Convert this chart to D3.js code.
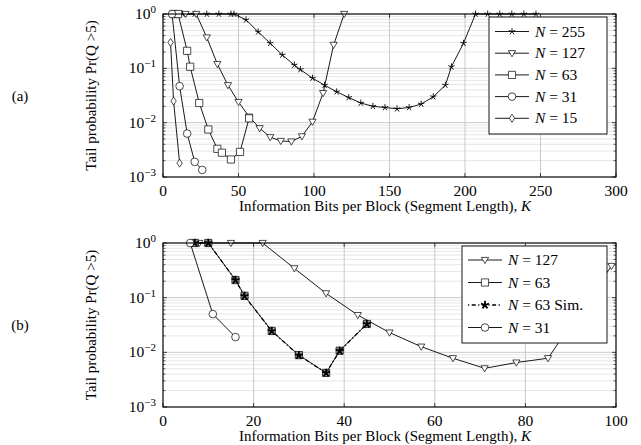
<!DOCTYPE html>
<html lang="en">
<head>
<meta charset="UTF-8">
<title>Tail probability vs K</title>
<script src="https://d3js.org/d3.v7.min.js"></script>
<style>
  body { margin: 0; background: #fff; }
  svg, svg text { font-family: "Liberation Serif", "Times New Roman", "DejaVu Serif", serif; }
</style>
</head>
<body>
<script>
// panel (a)
var kA255 = [9,13,21,29,37,45,47,55,63,71,79,87,91,99,107,115,123,131,139,147,155,163,171,179,187,191,199,207,215,223,231,239,247];
var pA255 = [1,1,1,1,1,1,1,0.78,0.47,0.29,0.176,0.115,0.095,0.066,0.049,0.037,0.029,0.023,0.020,0.019,0.018,0.019,0.022,0.030,0.049,0.107,0.29,1,1,1,1,1,1];
var kA127 = [8,15,22,29,36,43,50,57,64,71,78,85,92,99,106,113,120];
var pA127 = [1,1,1,0.37,0.12,0.049,0.024,0.0129,0.0079,0.0054,0.0046,0.0045,0.0056,0.0104,0.035,0.27,1];
var kA63 = [7,10,16,18,24,30,36,39,45,51,57];
var pA63 = [1,1,0.21,0.107,0.023,0.0075,0.0033,0.0028,0.0021,0.0029,0.012];
var kA31 = [6,11,16,21,26];
var pA31 = [1,0.047,0.0063,0.0019,0.00135];
var kA15 = [5,7,11];
var pA15 = [0.30,0.025,0.0018];

// panel (b)
var kB127 = [8,15,22,29,36,43,50,57,64,71,78,85,92,99];
var pB127 = [1,1,1,0.344,0.12,0.048,0.023,0.0127,0.0078,0.0051,0.0065,0.0078,0.056,0.38];
var kB63 = [7,10,16,18,24,30,36,39,45];
var pB63 = [1,1,0.21,0.108,0.0246,0.0089,0.0042,0.0107,0.033];
var pB63sim = [1,1,0.21,0.107,0.0245,0.0088,0.0042,0.0106,0.033];
var kB31 = [6,11,16];
var pB31 = [1,0.050,0.019];

var xTicksA = [0,50,100,150,200,250,300];
var xTicksB = [0,20,40,60,80,100];
var yTicks = [1e-3,1e-2,1e-1,1];
var yLabel = "Tail probability Pr(Q >5)";
var xLabel = "Information Bits per Block (Segment Length), ";

var FONT = '"Liberation Serif", "Times New Roman", "DejaVu Serif", serif';

var svg = d3.select("body").append("svg")
  .attr("width", 641).attr("height", 445)
  .attr("font-family", FONT);

// pgf style asterisk star: 5 spokes
function starPath(r) {
  var s = "";
  for (var i = 0; i < 5; i++) {
    var a = (-90 + 72 * i) * Math.PI / 180;
    s += "M0,0L" + (r * Math.cos(a)).toFixed(2) + "," + (r * Math.sin(a)).toFixed(2);
  }
  return s;
}

function markerPath(type) {
  if (type == "star") return starPath(3.4);
  if (type == "bigstar") return starPath(4.2);
  if (type == "tri") return "M-3.6,-2.6L3.6,-2.6L0,3.6Z";
  if (type == "square") return "M-3.6,-3.6L3.6,-3.6L3.6,3.6L-3.6,3.6Z";
  if (type == "circle") return d3.symbol(d3.symbolCircle).size(46)();
  if (type == "diamond") return "M0,-4L2.7,0L0,4L-2.7,0Z";
}

function markerWidth(type) {
  if (type == "star") return 0.9;
  if (type == "bigstar") return 1.8;
  return 0.7;
}

function drawPanel(p) {
  var x = d3.scaleLinear().domain(p.xDomain).range([163, 616]);
  var y = d3.scaleLog().domain([1e-3, 1]).range([p.bottom, p.top]);
  var g = svg.append("g");

  // grid
  var minors = [];
  [1e-3,1e-2,1e-1].forEach(function(d) {
    for (var m = 2; m <= 9; m++) minors.push(d * m);
  });
  g.selectAll(".minor").data(minors).enter().append("line")
    .attr("x1", 163).attr("x2", 616)
    .attr("y1", function(d) { return y(d); }).attr("y2", function(d) { return y(d); })
    .attr("stroke", "#e0e0e0").attr("stroke-width", 0.8);
  g.selectAll(".majy").data(yTicks).enter().append("line")
    .attr("x1", 163).attr("x2", 616)
    .attr("y1", function(d) { return y(d); }).attr("y2", function(d) { return y(d); })
    .attr("stroke", "#bdbdbd").attr("stroke-width", 0.8);
  g.selectAll(".majx").data(p.xTicks).enter().append("line")
    .attr("x1", function(d) { return x(d); }).attr("x2", function(d) { return x(d); })
    .attr("y1", p.top).attr("y2", p.bottom)
    .attr("stroke", "#bdbdbd").attr("stroke-width", 0.8);

  // tick marks inside the frame
  minors.forEach(function(d) {
    g.append("line").attr("x1", 163).attr("x2", 165.5).attr("y1", y(d)).attr("y2", y(d)).attr("stroke", "#000").attr("stroke-width", 0.6);
    g.append("line").attr("x1", 613.5).attr("x2", 616).attr("y1", y(d)).attr("y2", y(d)).attr("stroke", "#000").attr("stroke-width", 0.6);
  });
  yTicks.forEach(function(d) {
    g.append("line").attr("x1", 163).attr("x2", 167).attr("y1", y(d)).attr("y2", y(d)).attr("stroke", "#000").attr("stroke-width", 0.7);
    g.append("line").attr("x1", 612).attr("x2", 616).attr("y1", y(d)).attr("y2", y(d)).attr("stroke", "#000").attr("stroke-width", 0.7);
  });
  p.xTicks.forEach(function(d) {
    g.append("line").attr("x1", x(d)).attr("x2", x(d)).attr("y1", p.bottom).attr("y2", p.bottom - 4).attr("stroke", "#000").attr("stroke-width", 0.7);
    g.append("line").attr("x1", x(d)).attr("x2", x(d)).attr("y1", p.top).attr("y2", p.top + 4).attr("stroke", "#000").attr("stroke-width", 0.7);
  });

  // series
  var line = d3.line()
    .x(function(d) { return x(d[0]); })
    .y(function(d) { return y(d[1]); });
  p.series.forEach(function(s) {
    var pts = d3.zip(s.k, s.p);
    g.append("path").datum(pts)
      .attr("d", line)
      .attr("fill", "none").attr("stroke", "#000")
      .attr("stroke-width", s.width || 0.9)
      .attr("stroke-dasharray", s.dash || null);
    g.selectAll(null).data(pts).enter().append("path")
      .attr("d", markerPath(s.marker))
      .attr("transform", function(d) { return "translate(" + x(d[0]) + "," + y(d[1]) + ")"; })
      .attr("fill", s.fill).attr("stroke", "#000").attr("stroke-width", markerWidth(s.marker));
  });

  // frame
  g.append("rect").attr("x", 163).attr("y", p.top)
    .attr("width", 453).attr("height", p.bottom - p.top)
    .attr("fill", "none").attr("stroke", "#000").attr("stroke-width", 1.1);

  // tick labels
  p.xTicks.forEach(function(d) {
    g.append("text").attr("x", x(d)).attr("y", p.bottom + 19)
      .attr("text-anchor", "middle").attr("font-size", 15.5).text(d);
  });
  yTicks.forEach(function(d) {
    var e = Math.round(Math.log10(d));
    var t = g.append("text").attr("x", 156).attr("y", y(d) + 5)
      .attr("text-anchor", "end").attr("font-size", 15.5);
    t.append("tspan").text("10");
    t.append("tspan").attr("dy", -6).attr("font-size", 11)
      .text(e == 0 ? "0" : "\u2212" + (-e));
  });

  // axis labels
  var xl = g.append("text").attr("x", 385).attr("y", p.bottom + 34)
    .attr("text-anchor", "middle").attr("font-size", 15);
  xl.append("tspan").text(xLabel);
  xl.append("tspan").attr("font-style", "italic").text("K");
  g.append("text")
    .attr("transform", "translate(96," + ((p.top + p.bottom) / 2) + ") rotate(-90)")
    .attr("text-anchor", "middle").attr("font-size", 15).text(yLabel);
  g.append("text").attr("x", 20).attr("y", (p.top + p.bottom) / 2 + 5)
    .attr("text-anchor", "middle").attr("font-size", 15).text(p.tag);

  // legend
  var lg = p.legend;
  g.append("rect").attr("x", lg.x).attr("y", lg.y)
    .attr("width", lg.w).attr("height", lg.h)
    .attr("fill", "#fff").attr("stroke", "#000").attr("stroke-width", 0.9);
  p.series.forEach(function(s, i) {
    var cy = lg.y + lg.first + i * lg.step;
    g.append("line").attr("x1", lg.x + 6).attr("x2", lg.x + 40)
      .attr("y1", cy).attr("y2", cy)
      .attr("stroke", "#000").attr("stroke-width", s.width || 0.9)
      .attr("stroke-dasharray", s.dash || null);
    g.append("path").attr("d", markerPath(s.marker))
      .attr("transform", "translate(" + (lg.x + 23) + "," + cy + ")")
      .attr("fill", s.legendFill || s.fill).attr("stroke", "#000").attr("stroke-width", markerWidth(s.marker));
    var t = g.append("text").attr("x", lg.x + 46).attr("y", cy + 5).attr("font-size", 15.5);
    t.append("tspan").attr("font-style", "italic").text("N");
    t.append("tspan").text(" = " + s.name);
  });
}

drawPanel({
  tag: "(a)", top: 14, bottom: 177, xDomain: [0, 300], xTicks: xTicksA,
  legend: { x: 489, y: 17, w: 118, h: 117, first: 14.5, step: 21.7 },
  series: [
    { name: "255", k: kA255, p: pA255, marker: "star", fill: "none" },
    { name: "127", k: kA127, p: pA127, marker: "tri", fill: "#fff" },
    { name: "63", k: kA63, p: pA63, marker: "square", fill: "#fff" },
    { name: "31", k: kA31, p: pA31, marker: "circle", fill: "#fff" },
    { name: "15", k: kA15, p: pA15, marker: "diamond", fill: "#fff" }
  ]
});

drawPanel({
  tag: "(b)", top: 243, bottom: 407, xDomain: [0, 100], xTicks: xTicksB,
  legend: { x: 462, y: 246, w: 145, h: 97, first: 14, step: 22.5 },
  series: [
    { name: "127", k: kB127, p: pB127, marker: "tri", fill: "#fff" },
    { name: "63", k: kB63, p: pB63, marker: "square", fill: "#9a9a9a", legendFill: "#fff" },
    { name: "63 Sim.", k: kB63, p: pB63sim, marker: "bigstar", fill: "none", dash: "1.2,2.5,4,2.5", width: 1.3 },
    { name: "31", k: kB31, p: pB31, marker: "circle", fill: "#fff" }
  ]
});
</script>
</body>
</html>
